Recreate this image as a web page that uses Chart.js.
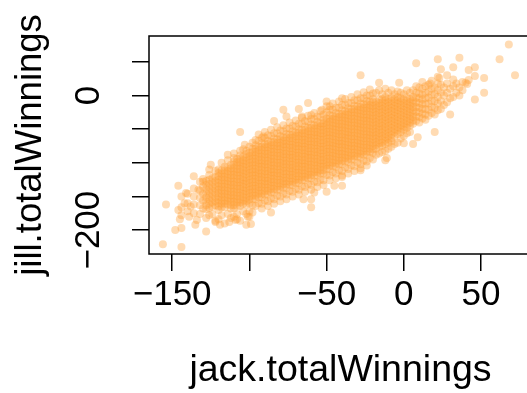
<!DOCTYPE html>
<html>
<head>
<meta charset="utf-8">
<script src="https://cdn.jsdelivr.net/npm/chart.js@4.4.1/dist/chart.umd.min.js"></script>
<style>
  html, body { margin: 0; padding: 0; background: #fff; overflow: hidden; }
  #wrap { width: 540px; height: 393px; }
</style>
</head>
<body>
<div id="wrap"><canvas id="scatter" width="540" height="393"></canvas></div>
<script>
// Ticks y etiquetas de los ejes
const xTicks = [-150, -100, -50, 0, 50];
const xTickLabels = ["\u2212150", "", "\u221250", "0", "50"];
const yTicks = [-200, -150, -100, -50, 0, 50];
const yTickLabels = ["\u2212200", "", "", "", "0", ""];

// Nube densa: para cada columna de jack, los valores de jill
const jackColumns = [
  -144, -140, -136, -132,
  -130, -128, -126, -124, -122, -120, -118, -116, -114, -112,
  -110, -108, -106, -104, -102, -100, -98, -96, -94, -92,
  -90, -88, -86, -84, -82, -80, -78, -76, -74, -72,
  -70, -68, -66, -64, -62, -60, -58, -56, -54, -52,
  -50, -48, -46, -44, -42, -40, -38, -36, -34, -32,
  -30, -28, -26, -24, -22, -20, -18, -16, -14, -12,
  -10, -8, -6, -4, -2, 0, 2, 4, 6, 8,
  10, 12, 14, 16, 18, 20, 22, 24, 26, 28,
  30, 32, 34, 36, 38
];
const jillColumns = [
  [-150, -166, -178],
  [-146, -160, -172],
  [-138, -150, -162, -175],
  [-128, -141, -152, -163, -176],
  [-124, -135, -146, -156, -168],
  [-169, -163, -157, -151, -145, -139, -133, -127, -182],
  [-167, -161, -155, -149, -143, -137, -131, -125, -110, -178],
  [-165, -159, -153, -147, -141, -135, -129, -123, -176],
  [-163, -157, -151, -145, -139, -133, -127, -121, -186, -112],
  [-170, -165, -160, -155, -150, -145, -140, -135, -130, -125, -120, -115, -110, -184],
  [-166, -161, -156, -151, -146, -141, -136, -131, -126, -121, -116, -111, -178, -100],
  [-166, -161, -156, -151, -146, -141, -136, -131, -126, -121, -116, -111, -106, -190],
  [-162, -157, -152, -147, -142, -137, -132, -127, -122, -117, -112, -107, -176, -96],
  [-168, -163, -158, -153, -148, -143, -138, -133, -128, -123, -118, -113, -108, -103, -182],
  [-168, -163, -158, -153, -148, -143, -138, -133, -128, -123, -118, -113, -108, -103, -98, -93, -180, -86],
  [-164, -159, -154, -149, -144, -139, -134, -129, -124, -119, -114, -109, -104, -99, -94, -176, -184],
  [-164, -159, -154, -149, -144, -139, -134, -129, -124, -119, -114, -109, -104, -99, -94, -89, -186, -82],
  [-161, -156, -151, -146, -141, -136, -131, -126, -121, -116, -111, -106, -101, -96, -91, -172, -80],
  [-162, -157, -152, -147, -142, -137, -132, -127, -122, -117, -112, -107, -102, -97, -92, -87, -82, -176],
  [-160, -155, -150, -145, -140, -135, -130, -125, -120, -115, -110, -105, -100, -95, -90, -85, -172, -180, -76],
  [-154, -149, -144, -139, -134, -129, -124, -119, -114, -109, -104, -99, -94, -89, -84, -79, -163, -70, -174],
  [-154, -149, -144, -139, -134, -129, -124, -119, -114, -109, -104, -99, -94, -89, -84, -79, -74, -164, -66],
  [-151, -146, -141, -136, -131, -126, -121, -116, -111, -106, -101, -96, -91, -86, -81, -76, -160, -67, -58],
  [-151, -146, -141, -136, -131, -126, -121, -116, -111, -106, -101, -96, -91, -86, -81, -76, -71, -161, -63, -168],
  [-147, -142, -137, -132, -127, -122, -117, -112, -107, -102, -97, -92, -87, -82, -77, -72, -156, -63, -54],
  [-147, -142, -137, -132, -127, -122, -117, -112, -107, -102, -97, -92, -87, -82, -77, -72, -67, -157, -59, -164],
  [-144, -139, -134, -129, -124, -119, -114, -109, -104, -99, -94, -89, -84, -79, -74, -69, -153, -60, -51],
  [-144, -139, -134, -129, -124, -119, -114, -109, -104, -99, -94, -89, -84, -79, -74, -69, -64, -154, -56, -161],
  [-140, -135, -130, -125, -120, -115, -110, -105, -100, -95, -90, -85, -80, -75, -70, -65, -149, -56, -47],
  [-140, -135, -130, -125, -120, -115, -110, -105, -100, -95, -90, -85, -80, -75, -70, -65, -60, -150, -52, -157],
  [-137, -132, -127, -122, -117, -112, -107, -102, -97, -92, -87, -82, -77, -72, -67, -62, -146, -53, -44],
  [-137, -132, -127, -122, -117, -112, -107, -102, -97, -92, -87, -82, -77, -72, -67, -62, -57, -147, -49, -154],
  [-133, -128, -123, -118, -113, -108, -103, -98, -93, -88, -83, -78, -73, -68, -63, -58, -142, -49, -40],
  [-133, -128, -123, -118, -113, -108, -103, -98, -93, -88, -83, -78, -73, -68, -63, -58, -53, -143, -45, -150],
  [-130, -125, -120, -115, -110, -105, -100, -95, -90, -85, -80, -75, -70, -65, -60, -55, -139, -46, -37],
  [-130, -125, -120, -115, -110, -105, -100, -95, -90, -85, -80, -75, -70, -65, -60, -55, -50, -140, -42, -147],
  [-126, -121, -116, -111, -106, -101, -96, -91, -86, -81, -76, -71, -66, -61, -56, -51, -135, -42, -33],
  [-126, -121, -116, -111, -106, -101, -96, -91, -86, -81, -76, -71, -66, -61, -56, -51, -46, -136, -38, -143],
  [-123, -118, -113, -108, -103, -98, -93, -88, -83, -78, -73, -68, -63, -58, -53, -48, -132, -39, -30],
  [-123, -118, -113, -108, -103, -98, -93, -88, -83, -78, -73, -68, -63, -58, -53, -48, -43, -133, -35, -140],
  [-119, -114, -109, -104, -99, -94, -89, -84, -79, -74, -69, -64, -59, -54, -49, -44, -128, -35, -26],
  [-119, -114, -109, -104, -99, -94, -89, -84, -79, -74, -69, -64, -59, -54, -49, -44, -39, -129, -31, -136],
  [-116, -111, -106, -101, -96, -91, -86, -81, -76, -71, -66, -61, -56, -51, -46, -41, -125, -32, -23],
  [-116, -111, -106, -101, -96, -91, -86, -81, -76, -71, -66, -61, -56, -51, -46, -41, -36, -126, -28, -133],
  [-109, -104, -99, -94, -89, -84, -79, -74, -69, -64, -59, -54, -49, -44, -39, -34, -118, -25, -16],
  [-109, -104, -99, -94, -89, -84, -79, -74, -69, -64, -59, -54, -49, -44, -39, -34, -29, -119, -21, -126],
  [-105, -100, -95, -90, -85, -80, -75, -70, -65, -60, -55, -50, -45, -40, -35, -30, -114, -21, -12],
  [-106, -101, -96, -91, -86, -81, -76, -71, -66, -61, -56, -51, -46, -41, -36, -31, -26, -116, -18, -123],
  [-102, -97, -92, -87, -82, -77, -72, -67, -62, -57, -52, -47, -42, -37, -32, -27, -111, -18, -9],
  [-102, -97, -92, -87, -82, -77, -72, -67, -62, -57, -52, -47, -42, -37, -32, -27, -22, -112, -14, -119],
  [-98, -93, -88, -83, -78, -73, -68, -63, -58, -53, -48, -43, -38, -33, -28, -23, -107, -14, -5],
  [-99, -94, -89, -84, -79, -74, -69, -64, -59, -54, -49, -44, -39, -34, -29, -24, -19, -109, -11, -116],
  [-95, -90, -85, -80, -75, -70, -65, -60, -55, -50, -45, -40, -35, -30, -25, -20, -104, -11, -2],
  [-95, -90, -85, -80, -75, -70, -65, -60, -55, -50, -45, -40, -35, -30, -25, -20, -15, -105, -7, -112],
  [-91, -86, -81, -76, -71, -66, -61, -56, -51, -46, -41, -36, -31, -26, -21, -16, -100, -7, 2],
  [-92, -87, -82, -77, -72, -67, -62, -57, -52, -47, -42, -37, -32, -27, -22, -17, -12, -102, -4, -108],
  [-88, -83, -78, -73, -68, -63, -58, -53, -48, -43, -38, -33, -28, -23, -18, -13, -97, -4, 5],
  [-88, -83, -78, -73, -68, -63, -58, -53, -48, -43, -38, -33, -28, -23, -18, -13, -8, -98, 0, -104],
  [-84, -79, -74, -69, -64, -59, -54, -49, -44, -39, -34, -29, -24, -19, -14, -9, -93, 0, 9],
  [-85, -80, -75, -70, -65, -60, -55, -50, -45, -40, -35, -30, -25, -20, -15, -10, -5, -95, 3],
  [-79, -74, -69, -64, -59, -54, -49, -44, -39, -34, -29, -24, -19, -14, -9, -88, 4],
  [-76, -71, -66, -61, -56, -51, -46, -41, -36, -31, -26, -21, -16, -11, -6, -86, 8],
  [-75, -70, -65, -60, -55, -50, -45, -40, -35, -30, -25, -20, -15, -10, -5, -84, 2],
  [-72, -67, -62, -57, -52, -47, -42, -37, -32, -27, -22, -17, -12, -7, -2, -82, 10],
  [-70, -65, -60, -55, -50, -45, -40, -35, -30, -25, -20, -15, -10, -5, -79, 4],
  [-68, -63, -58, -53, -48, -43, -38, -33, -28, -23, -18, -13, -8, -3, -76, 8],
  [-60, -55, -50, -45, -40, -35, -30, -25, -20, -15, -10, -5, -72, 2],
  [-57, -52, -47, -42, -37, -32, -27, -22, -17, -12, -7, -2, -70, 6],
  [-54, -49, -44, -39, -34, -29, -24, -19, -14, -9, -4, -64, 4],
  [-51, -46, -41, -36, -31, -26, -21, -16, -11, -6, -60, 2],
  [-48, -43, -38, -33, -28, -23, -18, -13, -8, -3, -56, 8],
  [-45, -40, -35, -30, -25, -20, -15, -10, -5, -54, 4],
  [-42, -37, -32, -27, -22, -17, -12, -7, -2, 8],
  [-38, -31, -24, -17, -10, -3, 4, 14],
  [-40, -32, -25, -18, -11, -4, 3, 12],
  [-34, -27, -20, -13, -6, 1, 10, 20],
  [-36, -28, -20, -12, -4, 4, 14],
  [-30, -21, -12, -3, 6, 16],
  [-26, -17, -8, 1, 10, 22],
  [-28, -18, -8, 2, 12],
  [-22, -12, -2, 8, 18, 28],
  [-20, -8, 4, 16],
  [-14, 0, 12],
  [-10, 4, 18, 30],
  [-4, 10],
  [-2, 14, 24],
  [4, 18],
  [0, 12],
  [8, 20]
];

// Puntos sueltos alrededor de la nube
const jackOutliers = [
  -156, -144, -154, -146, -136, -146, -145, -148, -128, -125, -114, -141, -142, -138,
  -139, -134, -144, -135, -133, -130, -126, -122, -119, -113, -109, -102, -101, -99,
  -106, -78, -68, -62, -50, -84, -76, -91, -103, -60, -66, -53, -40, -48,
  68, 62, 72, 36, 22, 32, 8, -28, 42, 46, 52, 52, 46, 46, 41, 30, 24, -16, -3, 40, 42, 23, 17,
  20, 9, 6, 0, -12, -28, -40, -40,
  -60, -60, -65, -86, -45, -50, -58, -11
];
const jillOutliers = [
  -221, -225, -162, -134, -120, -170, -184, -200, -202, -103, -88, -145, -160, -165,
  -180, -185, -197, -192, -140, -128, -118, -188, -192, -188, -185, -192, -180, -191,
  -54, -21, -20, -11, -9, -38, -31, -61, -73, -29, -31, -21, -4, -16,
  76, 54, 30, 56, 54, 42, 48, 30, 38, 42, 26, 4, -6, 29, 17, -28, 39, 19, 19, 19, 23, 26, 18,
  -54, -62, -72, -71, -96, -111, -121, -134,
  -166, -154, -154, -174, -134, -143, -144, -93
];

// Armar los puntos del dataset
const points = [];
jackColumns.forEach(function (jack, i) {
  jillColumns[i].forEach(function (jill) {
    points.push({ x: jack, y: jill });
  });
});
jackOutliers.forEach(function (jack, i) {
  points.push({ x: jack, y: jillOutliers[i] });
});

const font = "'Liberation Sans', Arial, Helvetica, sans-serif";

// Marco negro alrededor del area del grafico
const plotBox = {
  id: "plotBox",
  afterDatasetsDraw(chart) {
    const a = chart.chartArea;
    const ctx = chart.ctx;
    ctx.save();
    ctx.strokeStyle = "#000";
    ctx.lineWidth = 1.5;
    ctx.strokeRect(a.left, a.top, a.right - a.left, a.bottom - a.top);
    ctx.restore();
  },
};

new Chart(document.getElementById("scatter"), {
  type: "scatter",
  data: {
    datasets: [
      {
        data: points,
        backgroundColor: "rgba(255, 160, 55, 0.38)",
        borderWidth: 0,
        pointRadius: 4,
        pointHoverRadius: 4,
      },
    ],
  },
  options: {
    responsive: false,
    animation: false,
    devicePixelRatio: 1,
    events: [],
    layout: { padding: { top: 36, right: 8, bottom: 0, left: 0 } },
    plugins: { legend: { display: false }, tooltip: { enabled: false } },
    scales: {
      x: {
        type: "linear",
        min: -165,
        max: 83,
        afterBuildTicks: function (scale) {
          scale.ticks = xTicks.map(function (v) { return { value: v }; });
        },
        afterFit: function (scale) { scale.height = 139; },
        border: { display: false },
        grid: { drawOnChartArea: false, drawTicks: true, tickLength: 17, color: "#000", lineWidth: 1.5 },
        ticks: {
          autoSkip: false,
          maxRotation: 0,
          padding: 3,
          color: "#000",
          font: { family: font, size: 35 },
          callback: function (value) { return xTickLabels[xTicks.indexOf(value)]; },
        },
        title: {
          display: true,
          text: "jack.totalWinnings",
          color: "#000",
          font: { family: font, size: 37.5 },
          padding: { top: 0, bottom: 0 },
        },
      },
      y: {
        type: "linear",
        min: -235.5,
        max: 88.5,
        afterBuildTicks: function (scale) {
          scale.ticks = yTicks.map(function (v) { return { value: v }; });
        },
        afterFit: function (scale) { scale.width = 149; },
        border: { display: false },
        grid: { drawOnChartArea: false, drawTicks: true, tickLength: 17, color: "#000", lineWidth: 1.5 },
        ticks: {
          autoSkip: false,
          minRotation: 90,
          maxRotation: 90,
          crossAlign: "center",
          padding: 3,
          color: "#000",
          font: { family: font, size: 35 },
          callback: function (value) { return yTickLabels[yTicks.indexOf(value)]; },
        },
        title: {
          display: true,
          text: "jill.totalWinnings",
          color: "#000",
          font: { family: font, size: 36.5 },
          padding: { top: 9, bottom: 0 },
        },
      },
    },
  },
  plugins: [plotBox],
});
</script>
